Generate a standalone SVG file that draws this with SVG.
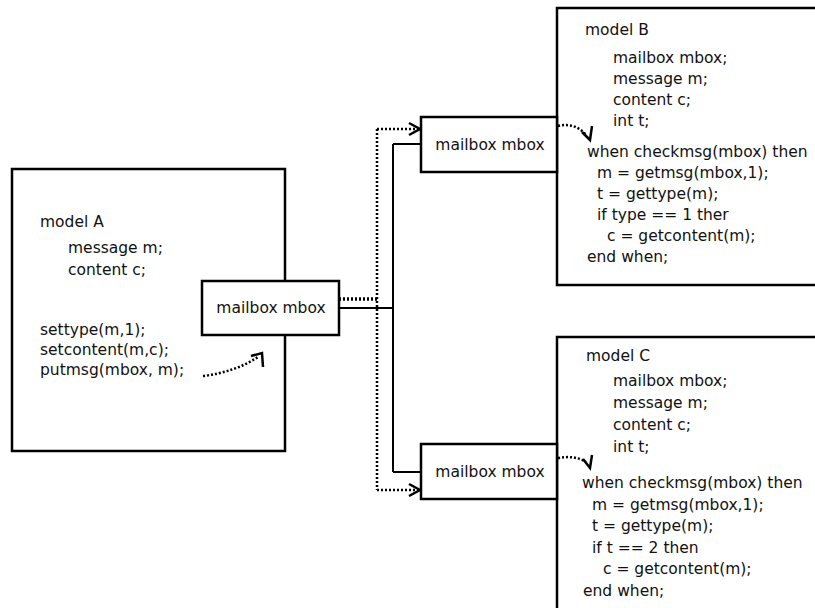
<svg xmlns="http://www.w3.org/2000/svg" width="815" height="608" viewBox="0 0 815 608">
<defs>
<style>
.box{fill:#fff;stroke:#000;stroke-width:2.5}
.t{font-family:"DejaVu Sans",sans-serif;font-size:15.5px;fill:#111}
.mid{text-anchor:middle}
.solid{fill:none;stroke:#000;stroke-width:2}
.dot{fill:none;stroke:#000;stroke-width:2.5;stroke-dasharray:2 2}
.thick{stroke-width:3.5}
.head{fill:none;stroke:#000;stroke-width:2.5}
</style>
</defs>
<rect width="815" height="608" fill="#fff"/>
<g id="modelA">
<rect class="box" x="12" y="169" width="273" height="282"/>
<text class="t" x="40" y="227">model A</text>
<text class="t" x="68" y="253">message m;</text>
<text class="t" x="68" y="275">content c;</text>
<text class="t" x="40" y="335">settype(m,1);</text>
<text class="t" x="40" y="355">setcontent(m,c);</text>
<text class="t" x="40" y="375">putmsg(mbox, m);</text>
</g>
<g id="modelB">
<rect class="box" x="557" y="8" width="270" height="277"/>
<text class="t" x="585" y="35">model B</text>
<text class="t" x="613" y="63">mailbox mbox;</text>
<text class="t" x="613" y="84">message m;</text>
<text class="t" x="613" y="105">content c;</text>
<text class="t" x="613" y="126">int t;</text>
<text class="t" x="587" y="157">when checkmsg(mbox) then</text>
<text class="t" x="597" y="178">m = getmsg(mbox,1);</text>
<text class="t" x="597" y="199">t = gettype(m);</text>
<text class="t" x="597" y="220">if type == 1 ther</text>
<text class="t" x="607" y="241">c = getcontent(m);</text>
<text class="t" x="587" y="262">end when;</text>
</g>
<g id="modelC">
<rect class="box" x="557" y="337" width="270" height="290"/>
<text class="t" x="586" y="361">model C</text>
<text class="t" x="613" y="386">mailbox mbox;</text>
<text class="t" x="613" y="408">message m;</text>
<text class="t" x="613" y="430">content c;</text>
<text class="t" x="613" y="452">int t;</text>
<text class="t" x="582" y="488">when checkmsg(mbox) then</text>
<text class="t" x="592" y="510">m = getmsg(mbox,1);</text>
<text class="t" x="592" y="531">t = gettype(m);</text>
<text class="t" x="592" y="553">if t == 2 then</text>
<text class="t" x="603" y="574">c = getcontent(m);</text>
<text class="t" x="583" y="596">end when;</text>
</g>
<g id="connectors">
<path class="solid" d="M339 308 H393 M393 144 V472 M393 144 H421 M393 472 H421"/>
<path class="dot thick" d="M339 299 H377"/>
<path class="dot" d="M377 129 V490 M377 129 H419 M377 490 H419"/>
<path class="head" d="M409 123 L420 129 L409 135 M409 484 L420 490 L409 496"/>
<path class="dot" d="M203 376 Q235 372 258 357"/>
<path class="head" d="M251 356 L262 353 L263 367"/>
<path class="dot" d="M558 126 Q575 122 586 135"/>
<path class="head" d="M582 132 L590 140 L592 126"/>
<path class="dot" d="M558 458 Q575 455 586 462"/>
<path class="head" d="M583 459 L590 468 L592 455"/>
</g>
<g id="mailboxA">
<rect class="box" x="202" y="281" width="137" height="54"/>
<text class="t mid" x="271" y="313">mailbox mbox</text>
</g>
<g id="mailboxB">
<rect class="box" x="421" y="117" width="136" height="55"/>
<text class="t mid" x="490" y="150">mailbox mbox</text>
</g>
<g id="mailboxC">
<rect class="box" x="421" y="444" width="136" height="55"/>
<text class="t mid" x="490" y="477">mailbox mbox</text>
</g>
</svg>
